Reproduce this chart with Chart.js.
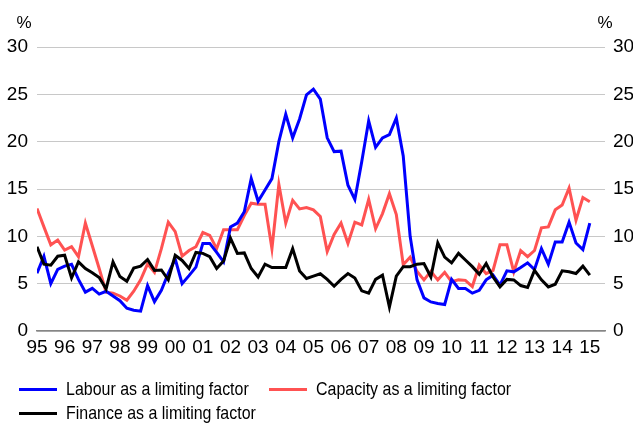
<!DOCTYPE html>
<html>
<head>
<meta charset="utf-8">
<script src="https://cdn.jsdelivr.net/npm/chart.js@4.4.0/dist/chart.umd.min.js"></script>
<style>
  body { margin: 0; background: #fff; }
  #wrap { position: relative; width: 633px; height: 424px; }
  #legend {
    position: absolute; left: 19px; top: 377px; width: 600px;
    display: flex; flex-wrap: wrap; column-gap: 20px;
    font: 19px "Liberation Sans", Arial, sans-serif; color: #000;
  }
  .item { display: flex; align-items: center; height: 24px; }
  .swatch { width: 38px; height: 3px; margin-right: 9px; }
  .label { display: inline-block; white-space: nowrap; transform: scaleX(0.84); transform-origin: left center; }
</style>
</head>
<body>
<div id="wrap">
  <canvas id="chart" width="633" height="424"></canvas>
  <div id="legend"></div>
</div>
<script>
// tick labels, one per year (data is quarterly, 95Q1 .. 15Q1)
const years = ['95', '96', '97', '98', '99', '00', '01', '02', '03', '04', '05',
               '06', '07', '08', '09', '10', '11', '12', '13', '14', '15'];

const labour = [6.1, 7.9, 5.0, 6.5, 6.85, 7.05, 5.45, 4.1, 4.5, 3.9,
                4.2, 3.7, 3.2, 2.4, 2.2, 2.1, 4.8, 3.1, 4.3, 6.1,
                7.6, 5.0, 5.85, 6.75, 9.25, 9.25, 8.3, 7.3, 11.0, 11.4,
                12.6, 16.1, 13.7, 14.9, 16.1, 20.0, 22.9, 20.4, 22.4, 24.95,
                25.55, 24.5, 20.4, 18.95, 19.0, 15.4, 13.9, 17.9, 22.2, 19.4,
                20.4, 20.75, 22.5, 18.5, 10.0, 5.4, 3.5, 3.07, 2.9, 2.8,
                5.45, 4.5, 4.5, 4.0, 4.3, 5.4, 5.9, 4.85, 6.35, 6.25,
                6.7, 7.2, 6.5, 8.7, 7.06, 9.4, 9.4, 11.5, 9.3, 8.6,
                11.4];

const capacity = [12.95, 11.0, 9.1, 9.6, 8.55, 8.9, 7.85, 11.4, 9.0, 6.6,
                  4.1, 4.0, 3.7, 3.25, 4.2, 5.4, 7.1, 6.2, 8.7, 11.5,
                  10.5, 7.9, 8.5, 8.9, 10.4, 10.1, 8.7, 10.7, 10.7, 10.7,
                  12.2, 13.5, 13.4, 13.4, 8.7, 15.5, 11.4, 13.8, 12.9, 13.05,
                  12.8, 12.1, 8.4, 10.2, 11.4, 9.25, 11.5, 11.2, 13.9, 10.8,
                  12.4, 14.5, 12.3, 7.0, 7.8, 6.3, 5.4, 6.3, 5.4, 6.2,
                  5.2, 5.4, 5.35, 4.7, 6.95, 6.05, 6.4, 9.1, 9.1, 6.25,
                  8.5, 7.85, 8.5, 10.9, 11.0, 12.8, 13.3, 15.1, 11.7, 14.1,
                  13.65];

const finance = [8.9, 7.06, 6.95, 7.9, 8.0, 5.6, 7.3, 6.6, 6.15, 5.65,
                 4.45, 7.3, 5.75, 5.25, 6.65, 6.85, 7.55, 6.4, 6.45, 5.4,
                 8.0, 7.45, 6.6, 8.3, 8.2, 7.85, 6.6, 7.4, 9.8, 8.2,
                 8.25, 6.6, 5.7, 7.06, 6.7, 6.7, 6.7, 8.7, 6.35, 5.55,
                 5.8, 6.05, 5.45, 4.73, 5.45, 6.07, 5.6, 4.24, 4.0, 5.45,
                 5.9, 2.54, 5.8, 6.8, 6.8, 7.06, 7.13, 5.7, 9.3, 7.8,
                 7.2, 8.2, 7.5, 6.8, 6.0, 7.13, 5.7, 4.66, 5.45, 5.4,
                 4.8, 4.6, 6.4, 5.4, 4.66, 4.94, 6.35, 6.25, 6.07, 6.85,
                 5.9];

const seriesNames = ['Labour as a limiting factor', 'Capacity as a limiting factor', 'Finance as a limiting factor'];
const seriesColors = ['#0000ff', '#ff5252', '#000000'];

const FONT = '"Liberation Sans", Arial, sans-serif';
Chart.defaults.font.family = FONT;
Chart.defaults.font.size = 19;
Chart.defaults.color = '#000';

const toPoints = arr => arr.map((v, i) => ({ x: i, y: v }));

const percentLabels = {
    id: 'percentLabels',
    afterDraw(chart) {
        const ctx = chart.ctx;
        const area = chart.chartArea;
        ctx.save();
        ctx.font = '17px ' + FONT;
        ctx.fillStyle = '#000';
        ctx.textAlign = 'center';
        ctx.textBaseline = 'middle';
        ctx.fillText('%', area.left - 13, area.top - 24);
        ctx.fillText('%', area.right, area.top - 24);
        ctx.restore();
    }
};

const ctx = document.getElementById('chart').getContext('2d');
const chart = new Chart(ctx, {
    type: 'line',
    data: {
        datasets: [
            { label: seriesNames[0], data: toPoints(labour), borderColor: seriesColors[0], order: 1 },
            { label: seriesNames[1], data: toPoints(capacity), borderColor: seriesColors[1], order: 2 },
            { label: seriesNames[2], data: toPoints(finance), borderColor: seriesColors[2], order: 0 }
        ]
    },
    options: {
        responsive: false,
        animation: false,
        layout: { padding: { top: 47, left: 0, right: 0, bottom: 67 } },
        elements: {
            line: { borderWidth: 3, tension: 0, fill: false },
            point: { radius: 0 }
        },
        plugins: {
            legend: { display: false },
            tooltip: { enabled: false }
        },
        scales: {
            x: {
                type: 'linear',
                min: 0,
                max: 82.2,
                afterBuildTicks: scale => {
                    scale.ticks = years.map((y, k) => ({ value: k * 4 }));
                },
                afterFit: scale => { scale.height = 26; },
                ticks: {
                    autoSkip: false,
                    maxRotation: 0,
                    padding: 5,
                    callback: (value, index) => years[index]
                },
                grid: { display: false, drawTicks: false },
                border: { display: true, color: '#868686', width: 1.5 }
            },
            y: {
                position: 'left',
                min: 0,
                max: 30,
                afterFit: scale => { scale.width = 37; },
                ticks: { stepSize: 5, padding: 9 },
                grid: { color: '#c8c8c8', lineWidth: 1, drawTicks: false },
                border: { display: false }
            },
            y2: {
                position: 'right',
                min: 0,
                max: 30,
                afterFit: scale => { scale.width = 28; },
                ticks: { stepSize: 5, padding: 8 },
                grid: { display: false, drawTicks: false },
                border: { display: false }
            }
        }
    },
    plugins: [percentLabels]
});

// legend built from the series names and colours; text is narrowed like the original
const legend = document.getElementById('legend');
[0, 1, 2].forEach(k => {
    const item = document.createElement('div');
    item.className = 'item';
    const swatch = document.createElement('span');
    swatch.className = 'swatch';
    swatch.style.background = seriesColors[k];
    const text = document.createElement('span');
    text.className = 'label';
    text.textContent = seriesNames[k];
    item.appendChild(swatch);
    item.appendChild(text);
    legend.appendChild(item);
    text.style.marginRight = (-0.16 * text.offsetWidth) + 'px';
});
</script>
</body>
</html>
